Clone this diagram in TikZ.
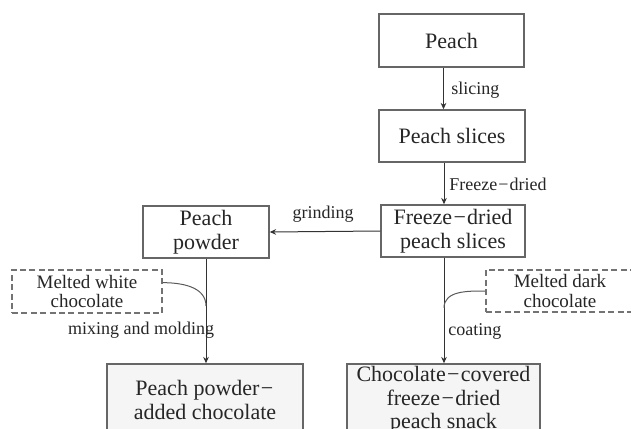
\documentclass[tikz,border=0pt]{standalone}
\usepackage{fontspec}
\setmainfont{Liberation Serif}
\usetikzlibrary{arrows.meta,calc}

\newcommand{\dsh}{\kern0.06em\char"2212\kern0.06em}

\begin{document}
\begin{tikzpicture}[
  x=0.5pt, y=-0.5pt,
  >={Stealth[length=3.2pt,width=2.8pt]},
  every node/.style={text=black!85},
  step box/.style={draw=black!60, line width=0.7pt, fill=white, align=center,
                   inner sep=0pt, font=\fontsize{11}{11.8}\selectfont},
  prod/.style={step box, fill=black!4},
  ingr/.style={draw=black!55, line width=0.6pt, dash pattern=on 3pt off 1.7pt,
               fill=white, align=center, inner sep=0pt,
               font=\fontsize{9.5}{9.8}\selectfont},
  lbl/.style={font=\fontsize{9}{10}\selectfont, inner sep=0pt},
  flow/.style={->, line width=0.5pt, draw=black!80},
  mergeline/.style={line width=0.5pt, draw=black!65},
]
  \clip (0,0) rectangle (631,428);

  % ===================== MAIN LINE =====================
  \node[step box, minimum width=72.5pt, minimum height=26.5pt] (peach)  at (451.5,40.5) {Peach};
  \node[step box, minimum width=73pt,   minimum height=26pt]   (slices) at (452,136)    {Peach slices};
  \node[step box, minimum width=72pt,   minimum height=26pt]   (fdry)   at (453,231)    {Freeze\dsh dried\\peach slices};
  \node[step box, minimum width=63pt,   minimum height=26pt]   (powder) at (206,232)    {Peach\\powder};

  \draw[flow] ([xshift=-4pt]peach.south) -- ([xshift=-4pt]peach.south |- slices.north);
  \draw[flow] ([xshift=-4pt]slices.south) -- ([xshift=-4pt]slices.south |- fdry.north);
  \draw[flow] (fdry.west) -- (powder.east);

  \node[lbl, anchor=west] (lslice) at (451,90)  {slicing};
  \node[lbl, anchor=west] (lfreez) at (449,184) {Freeze\dsh dried};
  \node[lbl]              (lgrind) at (323,214) {grinding};

  % ===================== CHOCOLATES =====================
  \node[ingr, minimum width=75pt, minimum height=21.5pt] (white) at (87,291.5) {Melted white\\chocolate};
  \node[ingr, minimum width=74pt, minimum height=21pt]   (dark)  at (560,291)  {Melted dark\\chocolate};

  \node[prod, minimum width=98pt,   minimum height=36pt] (pac) at (205,400)   {Peach powder\dsh\\added chocolate};
  \node[prod, minimum width=96.5pt, minimum height=36pt] (ccs) at (443.5,400) {Chocolate\dsh covered\\freeze\dsh dried\\peach snack};

  \draw[flow] (powder.south) -- (powder.south |- pac.north);
  \draw[flow] ([xshift=-4.5pt]fdry.south) -- ([xshift=-4.5pt]fdry.south |- ccs.north);

  % melted chocolate merging into the lines
  \coordinate (wjoin) at (powder.south |- 0,306);
  \coordinate (djoin) at ([xshift=-4.5pt]fdry.south |- 0,308);
  \draw[mergeline] ($(white.north east)!0.3!(white.south east)$) to[out=0, in=90] (wjoin);
  \draw[mergeline] (dark.west) to[out=180, in=90] (djoin);

  \node[lbl]              (lmix)  at (141,330) {mixing and molding};
  \node[lbl, anchor=west] (lcoat) at (448,331) {coating};
\end{tikzpicture}
\end{document}
